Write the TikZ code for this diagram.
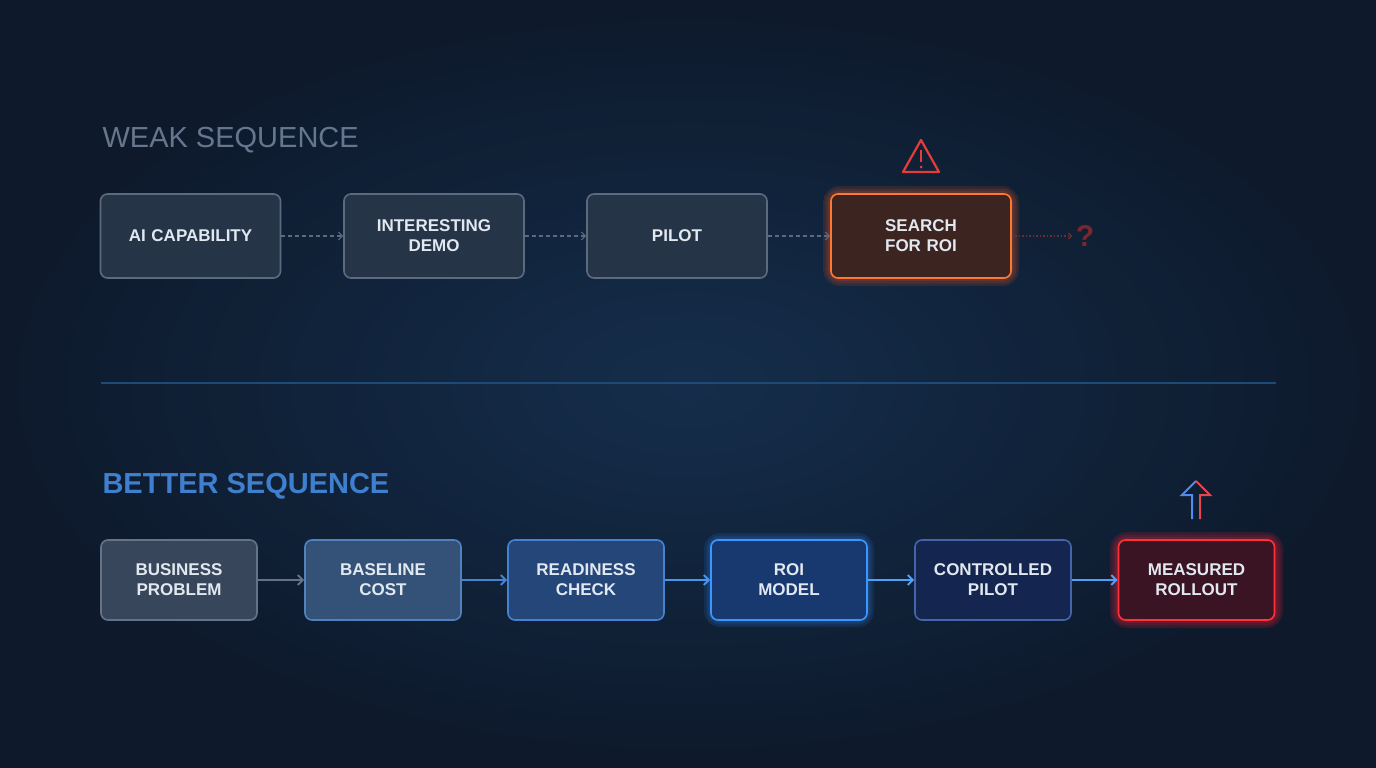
\documentclass[tikz,border=0pt]{standalone}
\usepackage{fontspec}
\setmainfont{Liberation Sans}
\usetikzlibrary{arrows.meta}
\definecolor{bg}{HTML}{0E1A2C}
\definecolor{bgc}{HTML}{16304F}
\definecolor{ttl}{HTML}{66768E}
\definecolor{btl}{HTML}{3F7FD0}
\definecolor{txt}{HTML}{E2E8F0}
\definecolor{grayb}{RGB}{92,106,128}
\definecolor{grayf}{RGB}{38,52,72}
\definecolor{orglow}{RGB}{255,90,30}
\definecolor{orline}{RGB}{255,120,50}
\definecolor{orfill}{RGB}{60,36,32}
\definecolor{redglow}{RGB}{255,30,50}
\definecolor{blueglow}{RGB}{50,140,255}
\definecolor{warn}{RGB}{230,60,60}
\definecolor{qcol}{RGB}{120,40,45}
\definecolor{qline}{RGB}{110,45,50}
\definecolor{divc}{RGB}{30,74,120}
\definecolor{upb}{RGB}{80,140,240}
\definecolor{upr}{RGB}{230,70,80}
\definecolor{ef}{RGB}{56,70,92}\definecolor{ed}{RGB}{100,115,138}
\definecolor{ff}{RGB}{52,82,120}\definecolor{fd}{RGB}{80,130,190}
\definecolor{gf}{RGB}{36,70,120}\definecolor{gd}{RGB}{70,130,210}
\definecolor{hf}{RGB}{24,56,112}\definecolor{hd}{RGB}{60,150,255}
\definecolor{if}{RGB}{20,38,80}\definecolor{id}{RGB}{70,100,170}
\definecolor{jf}{RGB}{58,20,34}\definecolor{jd}{RGB}{255,50,60}
\definecolor{a3}{RGB}{70,150,240}\definecolor{a4}{RGB}{80,160,250}
\begin{document}
\begin{tikzpicture}[x=1pt,y=-1pt,
  box/.style={rounded corners=7pt,line width=1.6pt,minimum height=84pt,text width=150pt,align=center,
     font=\fontsize{17}{20}\selectfont\bfseries,text=txt,inner sep=0pt},
  bbox/.style={box,minimum height=80pt,text width=156pt,minimum width=156pt},
  darr/.style={draw=#1,line width=1.2pt,dash pattern=on 4pt off 3pt,-{Straight Barb[length=4pt,width=8pt]}},
  sarr/.style={draw=#1,line width=2pt,-{Straight Barb[length=5pt,width=10pt]}}]
\useasboundingbox (0,0) rectangle (1376,768);
\fill[bg] (0,0) rectangle (1376,768);
\shade[inner color=bgc,outer color=bg,opacity=0.9] (688,384) ellipse (700 and 380);
% titles
\node[anchor=west,text=ttl,font=\fontsize{29}{32}\selectfont] (t1) at (99,140) {WEAK SEQUENCE};
\node[anchor=west,text=btl,font=\fontsize{29}{32}\selectfont\bfseries] (t2) at (99,486) {BETTER SEQUENCE};
\draw[draw=divc,line width=1.2pt] (101,383) -- (1276,383);
% top row
\foreach \n/\x/\t in {a/190.5/AI CAPABILITY,b/434/INTERESTING\\DEMO,c/677/PILOT}{
  \node[box,fill=grayf,draw=grayb,minimum width=180pt] (\n) at (\x,236) {\t};}
\foreach \w in {16,11,6}{\draw[draw=orglow,line width=\w pt,opacity=0.13,rounded corners=9pt] (831,194) rectangle (1011,278);}
\node[box,fill=orfill,draw=orline,minimum width=180pt] (d) at (921,236) {SEARCH\\FOR ROI};
\draw[darr=grayb] (a) -- (b);
\draw[darr=grayb] (b) -- (c);
\draw[darr=grayb] (c) -- (d);
\node[text=qcol,font=\fontsize{30}{30}\selectfont\bfseries] (q) at (1085,236) {?};
\draw[draw=qline,line width=1.2pt,dash pattern=on 1.5pt off 2pt,-{Straight Barb[length=3pt,width=6pt]}] (d) -- (q);
% warning
\draw[draw=warn,line width=2.2pt,line join=round] (903,172) -- (921,140) -- (939,172) -- cycle;
\draw[draw=warn,line width=2.2pt] (921,150) -- (921,162);
\fill[fill=warn] (921,167) circle (1.5);
% bottom row
\foreach \w in {16,11,6}{\draw[draw=redglow,line width=\w pt,opacity=0.15,rounded corners=9pt] (1118,540) rectangle (1275,620);}
\foreach \w in {14,9,5}{\draw[draw=blueglow,line width=\w pt,opacity=0.12,rounded corners=9pt] (711,540) rectangle (867,620);}
\node[bbox,fill=ef,draw=ed] (e) at (179,580) {BUSINESS\\PROBLEM};
\node[bbox,fill=ff,draw=fd] (f) at (383,580) {BASELINE\\COST};
\node[bbox,fill=gf,draw=gd] (g) at (586,580) {READINESS\\CHECK};
\node[bbox,fill=hf,draw=hd] (h) at (789,580) {ROI\\MODEL};
\node[bbox,fill=if,draw=id] (i) at (993,580) {CONTROLLED\\PILOT};
\node[bbox,fill=jf,draw=jd] (j) at (1196.5,580) {MEASURED\\ROLLOUT};
\draw[sarr=ed] (e) -- (f);
\draw[sarr=gd] (f) -- (g);
\draw[sarr=a3] (g) -- (h);
\draw[sarr=a4] (h) -- (i);
\draw[sarr=a4] (i) -- (j);
% up arrow
\draw[line width=2pt,draw=upb,line join=miter] (1192,519) -- (1192,495) -- (1182,495) -- (1196,481);
\draw[line width=2pt,draw=upr,line join=miter] (1196,481) -- (1210,495) -- (1200,495) -- (1200,519);
\end{tikzpicture}
\end{document}
